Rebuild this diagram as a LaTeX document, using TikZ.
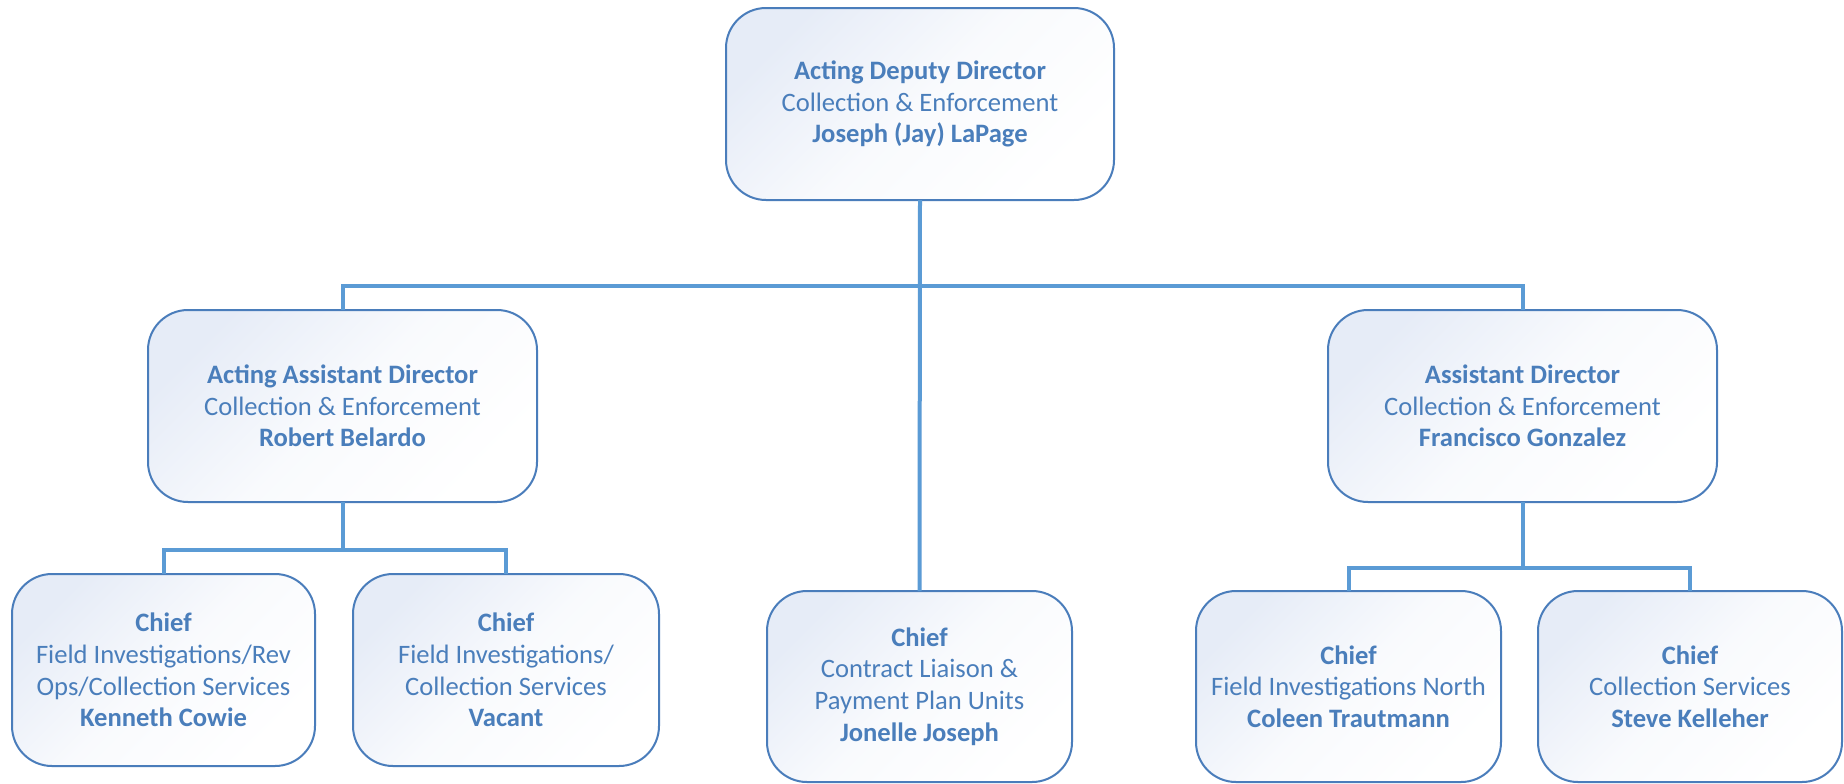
\documentclass[tikz,border=0pt]{standalone}
\usepackage{fontspec}
\setmainfont{Carlito}
\definecolor{txtc}{RGB}{74,126,187}
\definecolor{brdc}{RGB}{74,125,187}
\definecolor{linec}{RGB}{91,155,213}
\definecolor{gradc}{RGB}{230,236,247}
\begin{document}
\begin{tikzpicture}[x=0.5pt,y=-0.5pt,
  orgbox/.style={draw=brdc, line width=1pt, rounded corners=20pt,
    top color=gradc, bottom color=white, middle color=gradc!25!white, shading angle=45,
    inner sep=0pt, outer sep=0pt, align=center, text=txtc,
    font=\fontsize{13.3}{15.85}\selectfont},
  conn/.style={draw=linec, line width=2pt}]
\useasboundingbox (0,0) rectangle (1844,783);
\fill[white] (0,0) rectangle (1844,783);

\node[orgbox, minimum width=194pt, minimum height=96pt] (dd) at (920,104)
  {\textbf{Acting Deputy Director}\\Collection \& Enforcement\\\textbf{Joseph (Jay) LaPage}};
\node[orgbox, minimum width=194.5pt, minimum height=96pt] (aal) at (342.5,406)
  {\textbf{Acting Assistant Director}\\Collection \& Enforcement\\\textbf{Robert Belardo}};
\node[orgbox, minimum width=194.5pt, minimum height=96pt] (adr) at (1522.5,406)
  {\textbf{Assistant Director}\\Collection \& Enforcement\\\textbf{Francisco Gonzalez}};
\node[orgbox, minimum width=151.5pt, minimum height=96pt] (c1) at (163.5,670)
  {\textbf{Chief}\\Field Investigations/Rev\\Ops/Collection Services\\\textbf{Kenneth Cowie}};
\node[orgbox, minimum width=153pt, minimum height=96pt] (c2) at (506,670)
  {\textbf{Chief}\\Field Investigations/\\Collection Services\\\textbf{Vacant}};
\node[orgbox, minimum width=152.5pt, minimum height=95.5pt] (cm) at (919.5,686.5)
  {\textbf{Chief}\\Contract Liaison \&\\Payment Plan Units\\\textbf{Jonelle Joseph}};
\node[orgbox, minimum width=152.5pt, minimum height=95.5pt] (c4) at (1348.5,686.5)
  {\textbf{Chief}\\Field Investigations North\\\textbf{Coleen Trautmann}};
\node[orgbox, minimum width=152pt, minimum height=95.5pt] (c5) at (1690,686.5)
  {\textbf{Chief}\\Collection Services\\\textbf{Steve Kelleher}};

\coordinate (lj) at (342.5,550);
\coordinate (rj) at (1522.5,568);

\draw[conn] (dd.south) -- (cm.north);
\draw[conn] (aal.north) -- ++(0,-24) -| (adr.north);
\draw[conn] (aal.south) -- (lj);
\draw[conn] (c1.north) |- (lj) -| (c2.north);
\draw[conn] (adr.south) -- (rj);
\draw[conn] (c4.north) |- (rj) -| (c5.north);
\end{tikzpicture}
\end{document}
